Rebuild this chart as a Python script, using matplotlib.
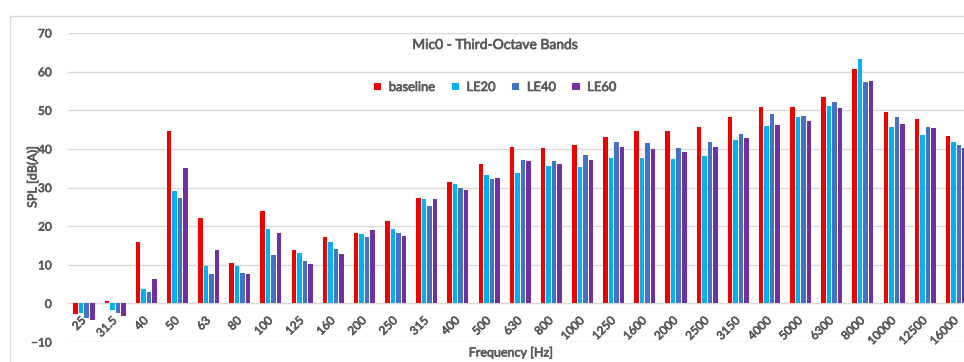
import matplotlib
matplotlib.use("Agg")
import matplotlib.pyplot as plt
import matplotlib.patheffects as pe
import numpy as np
from matplotlib.patches import Patch, Rectangle

plt.rcParams['font.family'] = ['Lato', 'DejaVu Sans']

# Third-octave band centre frequencies [Hz]
bands = ["25", "31.5", "40", "50", "63", "80", "100", "125", "160", "200",
         "250", "315", "400", "500", "630", "800", "1000", "1250", "1600",
         "2000", "2500", "3150", "4000", "5000", "6300", "8000", "10000",
         "12500", "16000"]

# SPL per band [dB(A)]
baseline = [-2.7, 0.7, 15.9, 44.6, 22.0, 10.5, 23.9, 13.9, 17.2, 18.3,
            21.2, 27.3, 31.4, 36.1, 40.6, 40.2, 40.9, 43.2, 44.6,
            44.6, 45.7, 48.2, 50.9, 50.9, 53.5, 60.7, 49.6,
            47.8, 43.3]
le20 = [-2.4, -1.7, 3.8, 29.2, 9.8, 9.8, 19.3, 13.1, 16.0, 18.0,
        19.3, 27.1, 30.9, 33.3, 33.8, 35.5, 35.3, 37.7, 37.7,
        37.5, 38.2, 42.4, 45.9, 48.2, 51.2, 63.3, 45.7,
        43.5, 41.8]
le40 = [-3.7, -2.6, 3.0, 27.3, 7.5, 7.8, 12.6, 10.9, 14.0, 17.3,
        18.3, 25.1, 29.8, 32.2, 37.1, 36.8, 38.5, 41.9, 41.5,
        40.1, 41.8, 43.9, 49.0, 48.4, 52.2, 57.2, 48.2,
        45.6, 40.9]
le60 = [-4.2, -3.3, 6.3, 35.1, 13.7, 7.5, 18.2, 10.2, 12.9, 19.1,
        17.4, 26.9, 29.3, 32.4, 36.8, 36.2, 37.0, 40.4, 40.0,
        39.1, 40.6, 42.8, 46.2, 47.3, 50.6, 57.5, 46.4,
        45.3, 40.3]

series_names = ["baseline", "LE20", "LE40", "LE60"]
series_values = [baseline, le20, le40, le60]
series_colors = ["#EE0000", "#00B0F0", "#4472C4", "#7030A0"]

text_color = "#595959"
grid_color = "#D9D9D9"
# slightly heavier strokes for all chart text
heavy = [pe.withStroke(linewidth=0.5, foreground=text_color)]

W, H = 964, 362
fig = plt.figure(figsize=(W / 100, H / 100), dpi=100)

# chart frame
fig.patches.append(Rectangle((10 / W, -0.1), 1.2, (H - 16) / H + 0.1,
                             transform=fig.transFigure, fill=False,
                             edgecolor=grid_color, linewidth=1.0))

ax = fig.add_axes([68.4 / W, 20 / H, (972 - 68.4) / W, (342 - 33) / H])
ax.set_facecolor("none")

x = np.arange(len(bands))
pitch = 0.177
bar_w = 0.145
for i, (vals, col) in enumerate(zip(series_values, series_colors)):
    ax.bar(x + (i - 1.5) * pitch, vals, width=bar_w, color=col, zorder=3)

ax.set_xlim(-0.5, len(bands) - 0.5)
ax.set_ylim(-10, 70)
ax.set_yticks(np.arange(-10, 71, 10))
ax.yaxis.grid(True, color=grid_color, linewidth=1.0, zorder=0)
ax.set_axisbelow(True)

for s in ["top", "right", "left"]:
    ax.spines[s].set_visible(False)
ax.spines["bottom"].set_position(("data", 0))
ax.spines["bottom"].set_color(grid_color)
ax.spines["bottom"].set_zorder(1)

ax.set_xticks(x)
ax.set_xticklabels(bands, rotation=45, ha="right", va="center",
                   rotation_mode="anchor", fontsize=8.5, color=text_color)
ax.tick_params(axis="x", length=0, pad=11)
ax.tick_params(axis="y", length=0, pad=12, labelsize=8.5, labelcolor=text_color)
for t in ax.get_xticklabels() + ax.get_yticklabels():
    t.set_path_effects(heavy)

fig.text(495 / W, 1 - 45 / H, "Mic0 - Third-Octave Bands", ha="center",
         va="center", fontsize=10, color=text_color, path_effects=heavy)
fig.text(511 / W, 1 - 352 / H, "Frequency [Hz]", ha="center", va="center",
         fontsize=9, color=text_color, path_effects=heavy)
fig.text(32 / W, 1 - 177 / H, "SPL [dB(A)]", ha="center", va="center",
         rotation=90, fontsize=9, color=text_color, path_effects=heavy)

handles = [Patch(facecolor=c, edgecolor="none") for c in series_colors]
leg = fig.legend(handles, series_names, loc="center", ncol=4,
                 bbox_to_anchor=(495 / W, 1 - 87 / H), frameon=False,
                 handlelength=0.55, handleheight=0.55, handletextpad=0.6,
                 columnspacing=1.3, prop={"size": 9.3})
for t in leg.get_texts():
    t.set_color(text_color)
    t.set_path_effects(heavy)

fig.savefig("out.png", dpi=100)
